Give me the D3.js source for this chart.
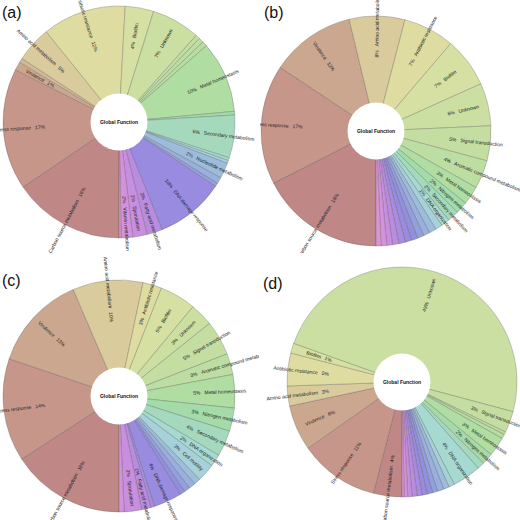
<!DOCTYPE html>
<html>
<head>
<meta charset="utf-8">
<script src="https://cdn.jsdelivr.net/npm/d3@7"></script>
<style>
  body { margin: 0; background: #fff; }
  text { font-family: "Liberation Sans", Arial, sans-serif; }
</style>
</head>
<body>
<div id="chart"></div>
<script>
// global function categories, in Krona order (clockwise from 6 o'clock)
const categories = ["Carbon source metabolism","Stress response","Virulence","Other",
  "Amino acid metabolism","Antibiotic resistance","Biofilm","Unknown","Signal transduction",
  "Aromatic compound metabolism","Other","Metal homeostasis","Nitrogen metabolism",
  "Secondary metabolism","DNA organization","Cell motility","Nucleotide metabolism",
  "Other","Other","Other","DNA damage response","Other","Fatty acid metabolism",
  "Sporulation","Vitamin metabolism","Other"];

// share of each category (%) per sample
const valuesA = [15.6,17.0,1.2,0.6,5.0,11.7,4.0,6.8,0.6,0.7,0.7,10.0,0.5,6.0,0.4,0.4,2.2,0.9,0.5,0,9.6,0,2.2,2.0,1.6,0.3];
const valuesB = [17.5,16.8,11.9,0,7.8,7.2,7.0,6.0,4.9,4.0,0,2.6,1.7,1.6,1.2,1.0,1.0,0.9,0.9,0.9,0.9,0.9,0.9,0.8,0.8,0.7];
const valuesC = [15.7,14.2,13.2,0,9.7,2.6,5.0,3.2,4.8,2.9,0,4.6,3.2,3.6,1.7,2.5,0.9,0.9,0.8,0.7,3.9,0.5,1.3,2.4,0.7,0];
const valuesD = [4.0,11.2,6.4,0,2.8,4.6,1.4,48.6,3.0,0.4,0.6,2.7,1.6,1.0,4.0,0.8,0.8,0.9,0.7,0.8,0.7,0.7,0.7,0.6,0.5,0.3];

const panelLabels = ["(a)","(b)","(c)","(d)"];
const centerLabel = "Global Function";

// layout of the four pies
const panels = [
  {values: valuesA, cx: 119, cy: 122, r: 116, clip: [0, 0, 259, 253], lx: 2, ly: 18},
  {values: valuesB, cx: 376, cy: 131, r: 115, clip: [260, 0, 260, 253], lx: 264, ly: 18},
  {values: valuesC, cx: 119, cy: 396, r: 116, clip: [0, 256, 259, 264], lx: 2, ly: 286},
  {values: valuesD, cx: 402, cy: 382, r: 115, clip: [260, 256, 260, 264], lx: 263, ly: 289}
];

const width = 520, height = 520;
const svg = d3.select("#chart").append("svg")
  .attr("width", width)
  .attr("height", height);

// Krona-like pastel colours, one hue per category
const hue = d3.scaleLinear().domain([0, 7, 11, 16, 20, 25]).range([0, 80, 105, 210, 250, 305]);
const sat = d3.scaleLinear().domain([0, 35, 60, 100, 150, 190, 250, 280, 310])
  .range([0.31, 0.41, 0.5, 0.47, 0.4, 0.4, 0.57, 0.57, 0.45]);
const light = d3.scaleLinear().domain([0, 18, 35, 60, 100, 190, 250, 310])
  .range([0.64, 0.67, 0.71, 0.76, 0.75, 0.75, 0.71, 0.72]);
function catColor(i) {
  const h = hue(i);
  return d3.hsl(h, sat(h), light(h)).toString();
}

const pie = d3.pie().sort(null).value(d => d.value)
  .startAngle(Math.PI).endAngle(3 * Math.PI);

panels.forEach((p, k) => {
  const data = categories.map((name, i) => ({name: name, idx: i, value: p.values[i]}))
    .filter(d => d.value > 0);
  const total = d3.sum(data, d => d.value);
  const arcs = pie(data);
  const inner = 28.5;
  const arc = d3.arc().innerRadius(0).outerRadius(p.r);

  svg.append("clipPath").attr("id", "clip" + k)
    .append("rect")
    .attr("x", p.clip[0]).attr("y", p.clip[1])
    .attr("width", p.clip[2]).attr("height", p.clip[3]);

  const g = svg.append("g").attr("clip-path", `url(#clip${k})`)
    .append("g")
    .attr("transform", `translate(${p.cx},${p.cy})`);

  g.selectAll("path.slice")
    .data(arcs)
    .join("path")
    .attr("class", "slice")
    .attr("d", arc)
    .attr("fill", d => catColor(d.data.idx))
    .attr("stroke", "rgba(70,70,70,0.45)")
    .attr("stroke-width", 0.6);

  // labels, percentage nearest the centre
  const r0 = p.r * 0.64;
  arcs.filter(d => d.data.value / total >= 0.0105).forEach(d => {
    const mid = (d.startAngle + d.endAngle) / 2;
    const deg = mid * 180 / Math.PI - 90;
    const pct = Math.round(d.data.value / total * 100) + "%";
    const right = Math.sin(mid) >= 0;
    const t = g.append("text")
      .attr("font-size", 5)
      .attr("fill", "#222")
      .attr("dy", "0.35em");
    if (right) {
      t.attr("transform", `rotate(${deg}) translate(${r0},0)`)
        .attr("text-anchor", "start");
      t.append("tspan").text(pct);
      t.append("tspan").attr("dx", 4).text(d.data.name);
    } else {
      t.attr("transform", `rotate(${deg}) translate(${r0},0) rotate(180)`)
        .attr("text-anchor", "end");
      t.append("tspan").text(d.data.name);
      t.append("tspan").attr("dx", 4).text(pct);
    }
  });

  g.append("circle").attr("r", inner).attr("fill", "#fff");
  g.append("text")
    .attr("text-anchor", "middle")
    .attr("dy", "0.35em")
    .attr("font-size", 5)
    .attr("font-weight", "bold")
    .attr("fill", "#111")
    .text(centerLabel);

  svg.append("text")
    .attr("x", p.lx).attr("y", p.ly)
    .attr("font-size", 16)
    .attr("fill", "#111")
    .text(panelLabels[k]);
});
</script>
</body>
</html>
